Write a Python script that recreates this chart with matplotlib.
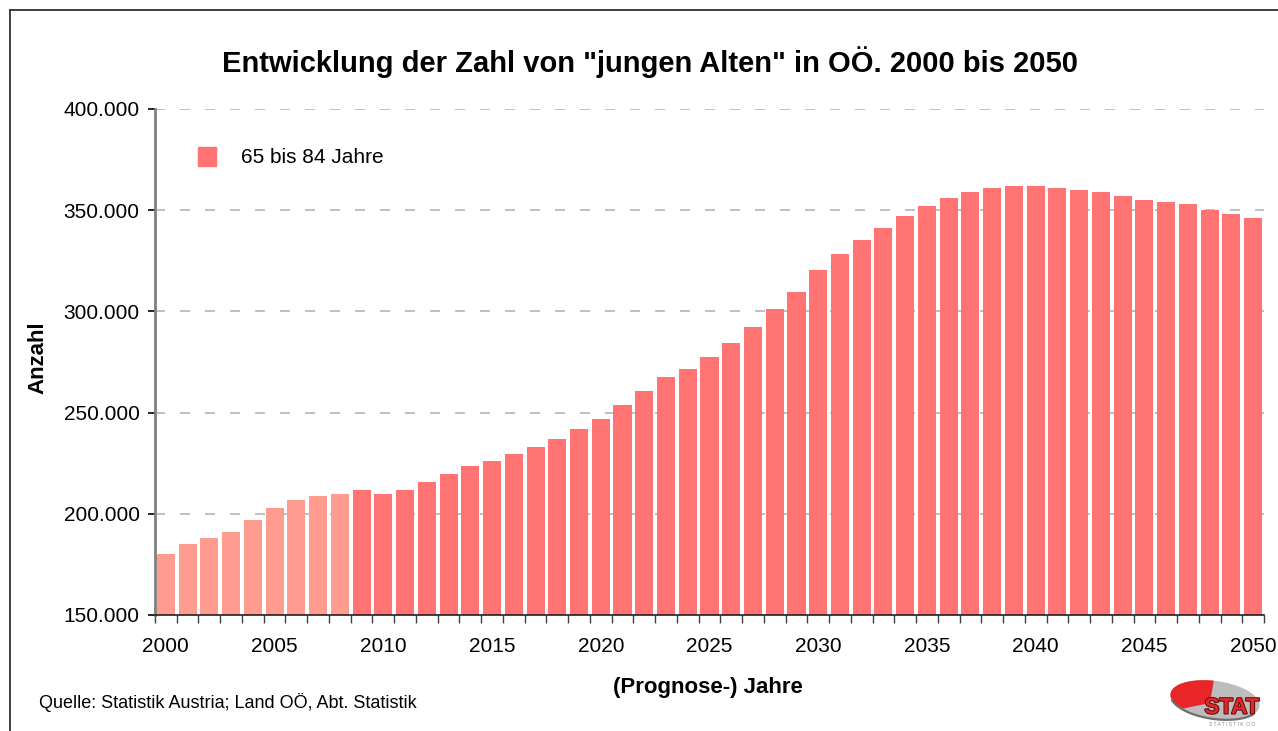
import matplotlib
matplotlib.use("Agg")
import matplotlib.pyplot as plt
import numpy as np
from matplotlib.patches import Ellipse, Rectangle, Polygon
from matplotlib.lines import Line2D
from matplotlib.ticker import FuncFormatter, FixedLocator
import matplotlib.patheffects as pe

plt.rcParams['font.family'] = ['Liberation Sans', 'DejaVu Sans']

years = list(range(2000, 2051))
values = [180100, 185100, 188000, 191000, 196900, 202900, 206800, 208800, 209800, 211800,
          209800, 211800, 215700, 219700, 223600, 226100, 229500, 233000, 237000, 241900,
          246800, 253800, 260700, 267600, 271500, 277500, 284400, 292300, 301200, 309600,
          320500, 328400, 335300, 341200, 347100, 352100, 356000, 359000, 361000, 362000,
          362000, 361000, 360000, 359000, 357000, 355000, 354000, 353000, 350100, 348100,
          346100]
last_actual_year = 2008
title = 'Entwicklung der Zahl von "jungen Alten" in OÖ. 2000 bis 2050'
series_label = "65 bis 84 Jahre"
y_label = "Anzahl"
x_label = "(Prognose-) Jahre"
source = "Quelle: Statistik Austria; Land OÖ, Abt. Statistik"
y_ticks = [150000, 200000, 250000, 300000, 350000, 400000]
x_label_years = list(range(2000, 2051, 5))

c_hist = '#FF9B8F'
c_prog = '#FF7373'

W, H = 1278, 731
fig = plt.figure(figsize=(W / 100, H / 100), dpi=100)
fig.patch.set_facecolor('white')

ax = fig.add_axes([155 / W, 1 - 615 / H, (1264 - 155) / W, (615 - 109) / H])
x = np.arange(len(years))
colors = [c_hist if y <= last_actual_year else c_prog for y in years]
ax.bar(x, values, width=0.83, color=colors, zorder=2)
ax.set_xlim(-0.5, len(years) - 0.5)
ax.set_ylim(150000, 400000)

ax.yaxis.set_major_locator(FixedLocator(y_ticks))
ax.yaxis.set_major_formatter(FuncFormatter(lambda v, p: f"{int(v):,}".replace(",", ".")))
ax.grid(axis='y', color='#b4b4b4', linestyle=(0, (6, 9)), linewidth=1.2, zorder=1)
ax.set_axisbelow(True)

ax.set_xticks([years.index(y) for y in x_label_years])
ax.set_xticklabels([str(y) for y in x_label_years])
ax.set_xticks(np.arange(-0.5, len(years) + 0.5, 1), minor=True)
ax.tick_params(axis='x', which='major', length=0, pad=16, labelsize=15)
ax.tick_params(axis='x', which='minor', length=6, width=1, color='#404040')
ax.tick_params(axis='y', which='major', length=5, width=1.2, labelsize=15, pad=6)

for s in ['top', 'right']:
    ax.spines[s].set_visible(False)
ax.spines['left'].set_color('#808080')
ax.spines['left'].set_linewidth(2)
ax.spines['bottom'].set_color('#202020')
ax.spines['bottom'].set_linewidth(1.2)

fig.text(38 / W, 1 - 358 / H, y_label, fontsize=16, fontweight='bold', rotation=90,
         ha='center', va='center')
fig.text(650 / W, 1 - 62 / H, title, fontsize=21, fontweight='bold', ha='center', va='center')
fig.text(708 / W, 1 - 688 / H, x_label, fontsize=16, fontweight='bold', ha='center', va='center')
fig.text(39 / W, 1 - 702 / H, source, fontsize=13, ha='left', va='center')

handle = Rectangle((0, 0), 1, 1, color=c_prog)
leg = ax.legend([handle], [series_label], loc='upper left', bbox_to_anchor=(0.022, 0.962),
                frameon=False, fontsize=15, handlelength=0.85, handleheight=1.0, handletextpad=1.2)

# outer frame (left and top)
fig.add_artist(Line2D([10 / W, 10 / W], [0, 1 - 10 / H], transform=fig.transFigure, color='#303030', lw=1.3))
fig.add_artist(Line2D([10 / W, 1], [1 - 10 / H, 1 - 10 / H], transform=fig.transFigure, color='#303030', lw=1.3))

# logo (pixel coordinates, y downward)
lax = fig.add_axes([1160 / W, 0, 118 / W, 61 / H])
lax.set_xlim(1160, 1278)
lax.set_ylim(731, 670)
lax.axis('off')
cx, cy, a, b, phi = 1215, 700, 45, 19, np.deg2rad(-8)
def ell(t):
    return (cx + a * np.cos(t) * np.cos(phi) - b * np.sin(t) * np.sin(phi),
            cy - (a * np.cos(t) * np.sin(phi) + b * np.sin(t) * np.cos(phi)))
tt = np.linspace(0, 2 * np.pi, 200)
ex, ey = ell(tt)
lax.add_patch(Polygon(np.column_stack([ex, ey]), closed=True, fc='#bdbdbd', ec='none'))
tr = np.deg2rad(np.linspace(95, 225, 80))
rx, ry = ell(tr)
lax.add_patch(Polygon(np.column_stack([np.r_[rx, cx - 5], np.r_[ry, cy + 3]]), closed=True,
                      fc='#e8262a', ec='none'))
tb = np.deg2rad(np.linspace(200, 330, 80))
bx, by = ell(tb)
lax.plot(bx, by, color='#6e6e6e', lw=1.6)
lax.text(1232, 708, "STAT", color='#e8262a', fontsize=16, fontweight='bold',
         ha='center', va='center',
         path_effects=[pe.withStroke(linewidth=1.5, foreground='#5a1010')])
lax.text(1232, 725, "S T A T I S T I K  O Ö", color='#8a8a8a', fontsize=3.5, ha='center', va='center')

fig.savefig("out.png", dpi=100)
